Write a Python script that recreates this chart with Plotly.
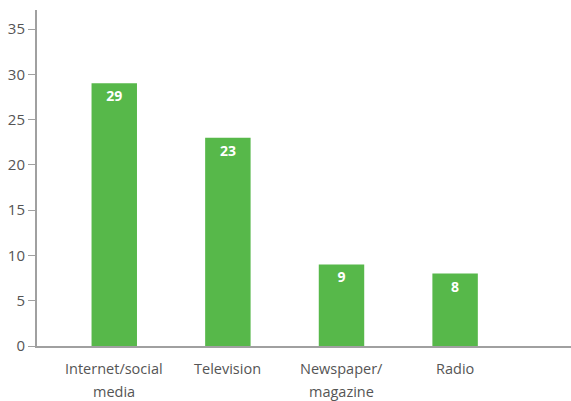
import plotly.graph_objects as go

# Media sources and their counts
categories = ["Internet/social<br>media", "Television", "Newspaper/<br>magazine", "Radio"]
values = [29, 23, 9, 8]
value_labels = ["29", "23", "9", "8"]

BAR_GREEN = "#57b84a"
AXIS_GREY = "#a0a0a0"
TEXT_GREY = "#555555"
FONT = "Open Sans, Noto Sans, sans-serif"

positions = list(range(len(categories)))

fig = go.Figure(
    go.Bar(
        x=positions,
        y=values,
        width=0.4,
        marker=dict(color=BAR_GREEN, line=dict(width=0)),
        text=value_labels,
        textposition="inside",
        insidetextanchor="end",
        textangle=0,
        textfont=dict(family=FONT, size=14, color="white", weight="bold"),
        cliponaxis=False,
    )
)

# Category labels drawn line by line for wider line spacing
for pos, label in zip(positions, categories):
    for i, line in enumerate(label.split("<br>")):
        fig.add_annotation(
            x=pos, xref="x", y=0, yref="paper",
            text=line, showarrow=False,
            xanchor="center", yanchor="top",
            yshift=-11 - 23 * i,
            font=dict(family=FONT, size=14.5, color=TEXT_GREY),
        )

fig.update_layout(
    width=571,
    height=401,
    margin=dict(l=37, r=0, t=10, b=55),
    paper_bgcolor="white",
    plot_bgcolor="white",
    showlegend=False,
    font=dict(family=FONT, size=14, color=TEXT_GREY),
    xaxis=dict(
        range=[-0.68, 4.02],
        showticklabels=False,
        showgrid=False,
        zeroline=False,
        showline=True,
        linecolor=AXIS_GREY,
        linewidth=2,
        ticks="",
    ),
    yaxis=dict(
        range=[0, 37.1],
        tickvals=[0, 5, 10, 15, 20, 25, 30, 35],
        showgrid=False,
        zeroline=False,
        showline=True,
        linecolor=AXIS_GREY,
        linewidth=2,
        ticks="outside",
        ticklen=7,
        tickwidth=1,
        tickcolor=AXIS_GREY,
        tickfont=dict(family=FONT, size=15, color=TEXT_GREY),
    ),
)

fig.write_html("out.html")
